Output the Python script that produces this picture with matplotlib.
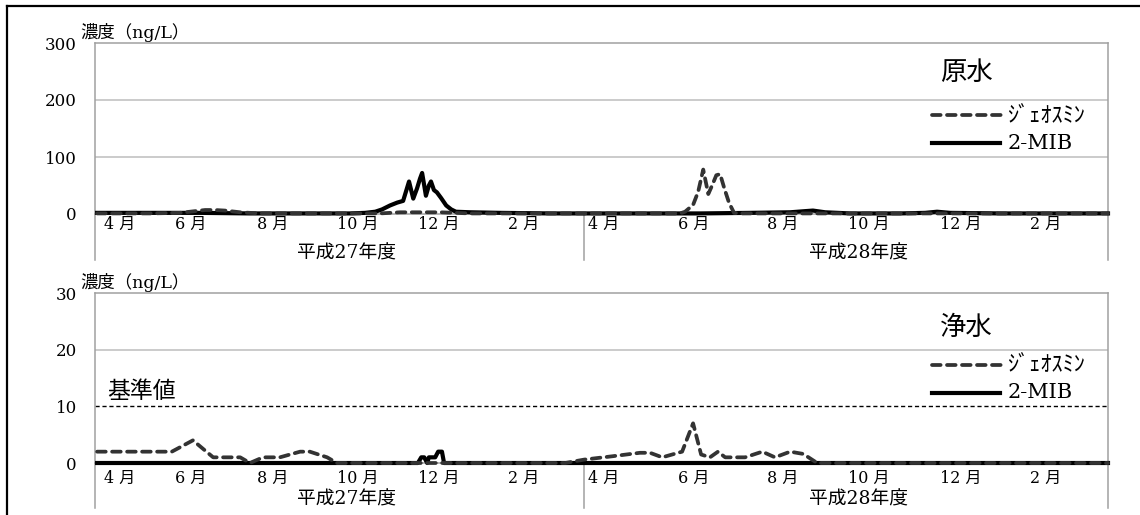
import matplotlib
matplotlib.use('Agg')
import matplotlib.pyplot as plt
from matplotlib.lines import Line2D

# ---------------- data ----------------
month_labels = ['4 月', '6 月', '8 月', '10 月', '12 月', '2 月',
                '4 月', '6 月', '8 月', '10 月', '12 月', '2 月']
month_pos = [2.1, 19.0, 38.4, 57.3, 76.5, 97.9,
             116.8, 138.2, 159.2, 178.4, 200.2, 221.6]
year_labels = ['平成27年度', '平成28年度']
year_pos = [59.7, 180.8]
year_boundary = 115.9
x_max = 240.0

# 原水 (raw water)
raw_mib_x = [0.5, 13.0, 24.9, 36.7, 48.6, 60.4, 64.0, 66.4, 68.0, 69.9, 71.6, 73.0,
             73.7, 74.4, 75.4, 76.3, 77.0, 77.5, 78.0, 78.4, 79.1, 79.6, 80.3, 81.0,
             82.0, 83.2, 84.4, 85.5, 88.9, 96.0, 107.8, 119.7, 143.4, 155.2, 164.7,
             168.2, 170.1, 173.0, 178.9, 190.8, 196.7, 199.5, 202.6, 214.5, 240.0]
raw_mib_y = [2, 2, 2, 1, 1, 1, 2, 4, 8, 15, 20, 23,
             40, 57, 27, 45, 62, 72, 50, 32, 50, 57, 42, 38,
             28, 15, 8, 4, 3, 2, 1, 1, 1, 2, 3,
             5, 6, 3, 1, 1, 2, 4, 2, 1, 1]
raw_geo_x = [0.5, 13.0, 20.1, 23.7, 26.1, 28.4, 30.8, 34.4, 39.1, 67.5, 69.9, 72.3,
             81.8, 85.3, 88.9, 138.6, 139.8, 141.7, 142.9, 144.1, 145.3, 146.2,
             147.2, 148.1, 149.1, 150.2, 151.4, 152.8, 240.0]
raw_geo_y = [1, 1, 2, 5, 7, 7, 6, 3, 1, 1, 2, 3,
             3, 2, 1, 1, 4, 16, 39, 78, 35, 50,
             68, 70, 45, 20, 2, 1, 1]

# 浄水 (treated water)
tr_geo_x = [0.5, 18.2, 23.2, 28.0, 34.4, 36.7, 39.8, 43.8, 48.6, 50.9, 55.0, 57.3,
            111.4, 115.9, 122.7, 129.1, 131.5, 134.4, 139.1, 141.7, 143.6, 145.7,
            147.6, 149.3, 154.0, 158.1, 161.1, 164.7, 167.8, 171.1, 240.0]
tr_geo_y = [2, 2, 4, 1, 1, 0, 1, 1, 2, 2, 1, 0,
            0, 0.6, 1.2, 1.8, 1.8, 1, 2, 7, 1.5, 1,
            2, 1, 1, 2, 1, 2, 1.6, 0, 0]
tr_mib_x = [0.5, 76.5, 77.3, 78.0, 78.7, 79.1, 80.6, 81.3, 82.2, 82.7, 240.0]
tr_mib_y = [0, 0, 1, 1, 0, 1, 1, 2, 2, 0, 0]

standard_value = 10

panels = [
    dict(title='原水', ymax=300, yticks=[0, 100, 200, 300], grid=[100, 200],
         mib=(raw_mib_x, raw_mib_y), geo=(raw_geo_x, raw_geo_y), std=False),
    dict(title='浄水', ymax=30, yticks=[0, 10, 20, 30], grid=[20],
         mib=(tr_mib_x, tr_mib_y), geo=(tr_geo_x, tr_geo_y), std=True),
]

# ---------------- figure ----------------
W, H = 1140, 515
fig = plt.figure(figsize=(W / 100, H / 100), dpi=100)

serif_cjk = ['DejaVu Serif', 'Noto Sans CJK JP']
cjk = ['Noto Sans CJK JP', 'DejaVu Sans']

# outer frame (left & top)
fig.add_artist(Line2D([7 / W, 7 / W], [0, 1 - 6 / H], color='black', lw=1.6))
fig.add_artist(Line2D([7 / W, 1], [1 - 6 / H, 1 - 6 / H], color='black', lw=1.6))

geo_color = '#333333'
spine_color = '#a0a0a0'
grid_color = '#bdbdbd'
mib_lw = 3.0
geo_lw = 2.7
geo_dashes = (2.3, 1.7)

# (top px, zero px, month-label offset, year-label offset, line extension)
geom = [(43, 214, -0.060, -0.228, -0.269),
        (293, 463, -0.088, -0.213, -0.265)]

for p, (top, zero, m_off, y_off, ext) in zip(panels, geom):
    ax = fig.add_axes([95 / W, 1 - zero / H, 1013 / W, (zero - top) / H])
    ax.set_xlim(0, x_max)
    ax.set_ylim(0, p['ymax'])
    for s in ['left', 'right', 'top', 'bottom']:
        ax.spines[s].set_color(spine_color)
        ax.spines[s].set_linewidth(1.1)
    ax.set_xticks([])
    ax.set_yticks(p['yticks'])
    ax.set_yticklabels([str(v) for v in p['yticks']], family='DejaVu Serif', fontsize=12)
    ax.tick_params(axis='y', length=0, pad=13)
    for g in p['grid']:
        ax.axhline(g, color=grid_color, lw=1.1, zorder=1)
    if p['std']:
        ax.axhline(standard_value, color='black', lw=1.0, dashes=(3, 2), zorder=2)
        ax.text(0.012, 0.418, '基準値', transform=ax.transAxes, fontsize=16.5,
                family=cjk, va='center', ha='left')

    # series
    ax.plot(p['mib'][0], p['mib'][1], color='black', lw=mib_lw, zorder=4,
            clip_on=False, solid_joinstyle='round')
    ax.plot(p['geo'][0], p['geo'][1], color=geo_color, lw=geo_lw, zorder=5,
            clip_on=False, dashes=geo_dashes, dash_capstyle='round')

    # category axis decorations
    xt = ax.get_xaxis_transform()
    for xv in [0, year_boundary, x_max]:
        ax.plot([xv, xv], [ext, 0], transform=xt, color=spine_color, lw=1.1,
                clip_on=False)
    for lab, xv in zip(month_labels, month_pos):
        ax.text(xv, m_off, lab, transform=xt, ha='left', va='center',
                fontsize=11.5, family=serif_cjk)
    for lab, xv in zip(year_labels, year_pos):
        ax.text(xv, y_off, lab, transform=xt, ha='center', va='center',
                fontsize=13.5, family=serif_cjk)

    # y-axis unit label
    ax.text(80 / W, 1 - (top - 11) / H, '濃度（ng/L）', transform=fig.transFigure,
            ha='left', va='center', fontsize=12.5, family=serif_cjk)

    # title
    ax.text(0.834, 0.80 if p['std'] else 0.825, p['title'], transform=ax.transAxes,
            ha='left', va='center', fontsize=19, family=cjk)

    # legend (manual)
    ax.plot([0.826, 0.898], [0.578, 0.578], transform=ax.transAxes, color=geo_color,
            lw=geo_lw, dashes=geo_dashes, dash_capstyle='round', clip_on=False)
    ax.text(0.901, 0.578, 'ｼﾞｪｵｽﾐﾝ', transform=ax.transAxes, ha='left',
            va='center', fontsize=16, family=cjk)
    ax.plot([0.826, 0.893], [0.414, 0.414], transform=ax.transAxes, color='black',
            lw=mib_lw, clip_on=False)
    ax.text(0.901, 0.414, '2-MIB', transform=ax.transAxes, ha='left',
            va='center', fontsize=15, family='DejaVu Serif')

fig.savefig('out.png', dpi=100)
